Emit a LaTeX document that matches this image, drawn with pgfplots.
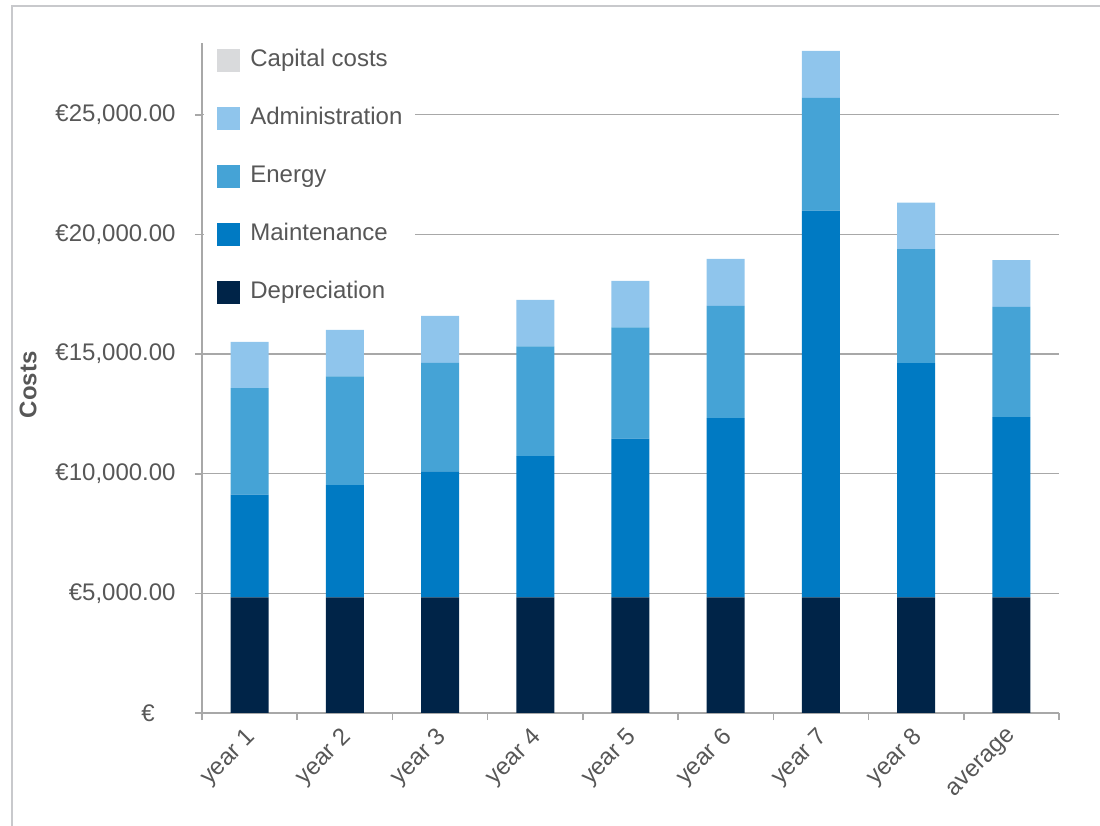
\documentclass[border=0pt]{standalone}
\usepackage{fontspec}
\setmainfont{Liberation Sans}
\usepackage{pgfplots}
\pgfplotsset{compat=1.18}
\definecolor{dep}{HTML}{002448}
\definecolor{maint}{HTML}{007AC3}
\definecolor{energy}{HTML}{45A3D6}
\definecolor{admin}{HTML}{8FC5EC}
\definecolor{capital}{HTML}{D9DADC}
\definecolor{txt}{HTML}{575757}
\definecolor{axgray}{HTML}{A8A8A8}
\definecolor{frame}{HTML}{C8C9CC}
\begin{document}
\begin{tikzpicture}[font=\fontsize{12}{14}\selectfont]
\useasboundingbox (0,0) rectangle (550pt,413pt);
\draw[frame, line width=1.3pt] (6pt,-2pt) -- (6pt,410pt) -- (552pt,410pt);
\begin{axis}[
  at={(101pt,56.5pt)}, anchor=south west,
  scale only axis, width=428.5pt, height=335pt,
  xmin=-0.5, xmax=8.5, ymin=0, ymax=28000,
  scaled y ticks=false,
  ybar stacked, bar width=19pt,
  axis x line*=bottom, axis y line*=left,
  axis line style={axgray, line width=0.8pt, -},
  ymajorgrids, grid style={axgray, line width=0.7pt},
  xtick={0,...,8},
  xticklabels={year 1,year 2,year 3,year 4,year 5,year 6,year 7,year 8,average},
  minor xtick={-0.5,0.5,...,8.5},
  major x tick style={draw=none},
  tick style={axgray, line width=0.8pt},
  tick align=outside,
  major tick length=3.5pt, minor tick length=3.5pt,
  ytick={0,5000,10000,15000,20000,25000},
  yticklabels={{€\hspace*{10.5pt}},{€5,000.00},{€10,000.00},{€15,000.00},{€20,000.00},{€25,000.00}},
  tick label style={font=\fontsize{12}{14}\selectfont, text=txt},
  yticklabel style={anchor=east, inner sep=0pt, xshift=-9.5pt},
  xticklabel style={rotate=45, anchor=north east, inner sep=0pt, xshift=-3.9pt, yshift=-0.4pt},
  every axis y label/.style={at={(rel axis cs:0,0.49)}, xshift=-87pt, rotate=90, anchor=center},
  ylabel={\bfseries Costs},
  ylabel style={text=txt, font=\fontsize{12}{14}\selectfont},
  reverse legend,
  legend style={at={(rel axis cs:0,1)}, anchor=north west, xshift=1pt, yshift=1.25pt,
    draw=none, fill=white, inner xsep=6.5pt, inner ysep=4pt,
    font=\fontsize{12}{14}\selectfont, text=txt,
    nodes={inner sep=0pt, text height=9pt, text depth=3pt},
    row sep=17pt, column sep=5pt, cells={anchor=west}},
  legend image code/.code={\fill[#1] (0pt,-5.75pt) rectangle (11.5pt,5.75pt);},
]
\addplot[fill=dep, draw=none] coordinates {(0,4833) (1,4833) (2,4833) (3,4833) (4,4833) (5,4833) (6,4833) (7,4833) (8,4833)};
\addplot[fill=maint, draw=none] coordinates {(0,4290) (1,4691) (2,5263) (3,5902) (4,6629) (5,7489) (6,16165) (7,9787) (8,7527)};
\addplot[fill=energy, draw=none] coordinates {(0,4453) (1,4540) (2,4541) (3,4583) (4,4649) (5,4696) (6,4708) (7,4762) (8,4617)};
\addplot[fill=admin, draw=none] coordinates {(0,1938) (1,1951) (2,1963) (3,1950) (4,1951) (5,1963) (6,1963) (7,1951) (8,1954)};
\addlegendimage{fill=capital, draw=none}
\legend{Depreciation,Maintenance,Energy,Administration,Capital costs}
\end{axis}
\end{tikzpicture}
\end{document}
